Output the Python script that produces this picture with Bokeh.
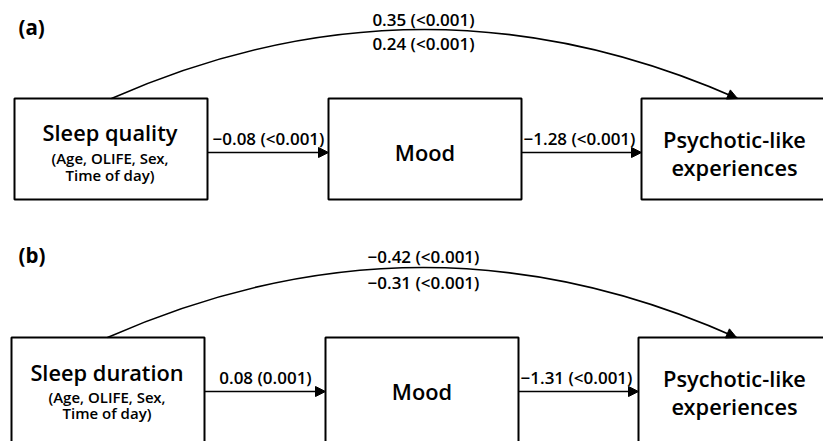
from bokeh.plotting import figure
from bokeh.models import Range1d, Arrow, NormalHead
from bokeh.core.properties import value
from bokeh.embed import file_html
from bokeh.resources import INLINE

# ---- data ----
panel_tags = ["(a)", "(b)"]
predictors = ["Sleep quality", "Sleep duration"]
covariates = ["(Age, OLIFE, Sex,", "Time of day)"]
mediator = "Mood"
outcome = ["Psychotic-like", "experiences"]
a_path = ["\u22120.08 (<0.001)", "0.08 (0.001)"]
b_path = ["\u22121.28 (<0.001)", "\u22121.31 (<0.001)"]
total_effect = ["0.35 (<0.001)", "\u22120.42 (<0.001)"]
direct_effect = ["0.24 (<0.001)", "\u22120.31 (<0.001)"]

# ---- layout (page pixel coordinates) ----
W, H = 823, 441
INK = "#000000"
FONT = value("Open Sans SemiBold, Open Sans Semibold, Open Sans")
T_SIZE, S_SIZE, L_SIZE = "21.8px", "15px", "17px"
panel_top = [98, 337]
panel_dx = [0, -3]
box_h = 101
box_x = [(14, 207), (328, 521), (641, 840)]
arrow_dy = [54, 54]
title_dy = [34, 35]
sub_dy = [(59, 76), (59, 75.5)]
tag_y = [26, 254]
top_lab_dy = [-79, -81]
bot_lab_dy = [-55, -55]
arc_peak_dy = [-69, -70]

p = figure(width=W, height=H, output_backend="svg", toolbar_location=None,
           x_range=Range1d(0, W), y_range=Range1d(H, 0),
           min_border=0, outline_line_color=None)
p.axis.visible = False
p.grid.visible = False


def txt(x, y, s, size, font=FONT, style="normal", align="center"):
    p.text(x=[x], y=[y], text=[s], text_align=align, text_baseline="middle",
           text_font=font, text_font_size=size, text_font_style=style,
           text_color=INK)


for i in range(2):
    top = panel_top[i]
    dx = panel_dx[i]
    bx = [(l + dx, r + dx) for (l, r) in box_x]
    p.quad(left=[b[0] for b in bx], right=[b[1] for b in bx],
           top=[top] * 3, bottom=[top + box_h + (20 if i else 0)] * 3,
           fill_alpha=0, line_color=INK, line_width=2)
    ay = top + arrow_dy[i]
    for (x0, x1) in [(bx[0][1], bx[1][0]), (bx[1][1], bx[2][0])]:
        p.add_layout(Arrow(end=NormalHead(size=10, fill_color=INK, line_color=INK),
                           x_start=x0, y_start=ay, x_end=x1, y_end=ay,
                           line_width=1.5, line_color=INK))
    txt((bx[0][1] + bx[1][0]) / 2 + 0.5, ay - 14, a_path[i], L_SIZE)
    txt((bx[1][1] + bx[2][0]) / 2 - 2, ay - 14, b_path[i], L_SIZE)
    c0 = (bx[0][0] + bx[0][1]) / 2 - 1
    txt(c0, top + title_dy[i], predictors[i], T_SIZE)
    txt(c0, top + sub_dy[i][0], covariates[0], S_SIZE)
    txt(c0, top + sub_dy[i][1], covariates[1], S_SIZE)
    txt((bx[1][0] + bx[1][1]) / 2, ay, mediator, T_SIZE)
    c2 = 734
    txt(c2, ay - 13, outcome[0], T_SIZE)
    txt(c2, ay + 15, outcome[1], T_SIZE)
    xs, ys = 111 + (-4 if i else 0), top
    xe, ye = 737 + (-1 if i else 0), top
    qx, qy = 424, top + 2 * arc_peak_dy[i]
    c1x, c1y = xs + 2 / 3 * (qx - xs), ys + 2 / 3 * (qy - ys)
    c2x, c2y = xe + 2 / 3 * (qx - xe), ye + 2 / 3 * (qy - ye)
    p.bezier(x0=[xs], y0=[ys], x1=[xe], y1=[ye], cx0=[c1x], cy0=[c1y],
             cx1=[c2x], cy1=[c2y], line_color=INK, line_width=1.6)
    tx, ty = xe - qx, ye - qy
    n = (tx ** 2 + ty ** 2) ** 0.5
    p.add_layout(Arrow(end=NormalHead(size=10, fill_color=INK, line_color=INK),
                       x_start=xe - 3 * tx / n, y_start=ye - 3 * ty / n, x_end=xe, y_end=ye,
                       line_width=1.5, line_color=INK))
    txt(423, top + top_lab_dy[i], total_effect[i], L_SIZE)
    txt(423, top + bot_lab_dy[i], direct_effect[i], L_SIZE)
    txt(18, tag_y[i], panel_tags[i], "20.5px", font=value("Open Sans"), style="bold", align="left")

open("out.html", "w").write(file_html(p, INLINE))
